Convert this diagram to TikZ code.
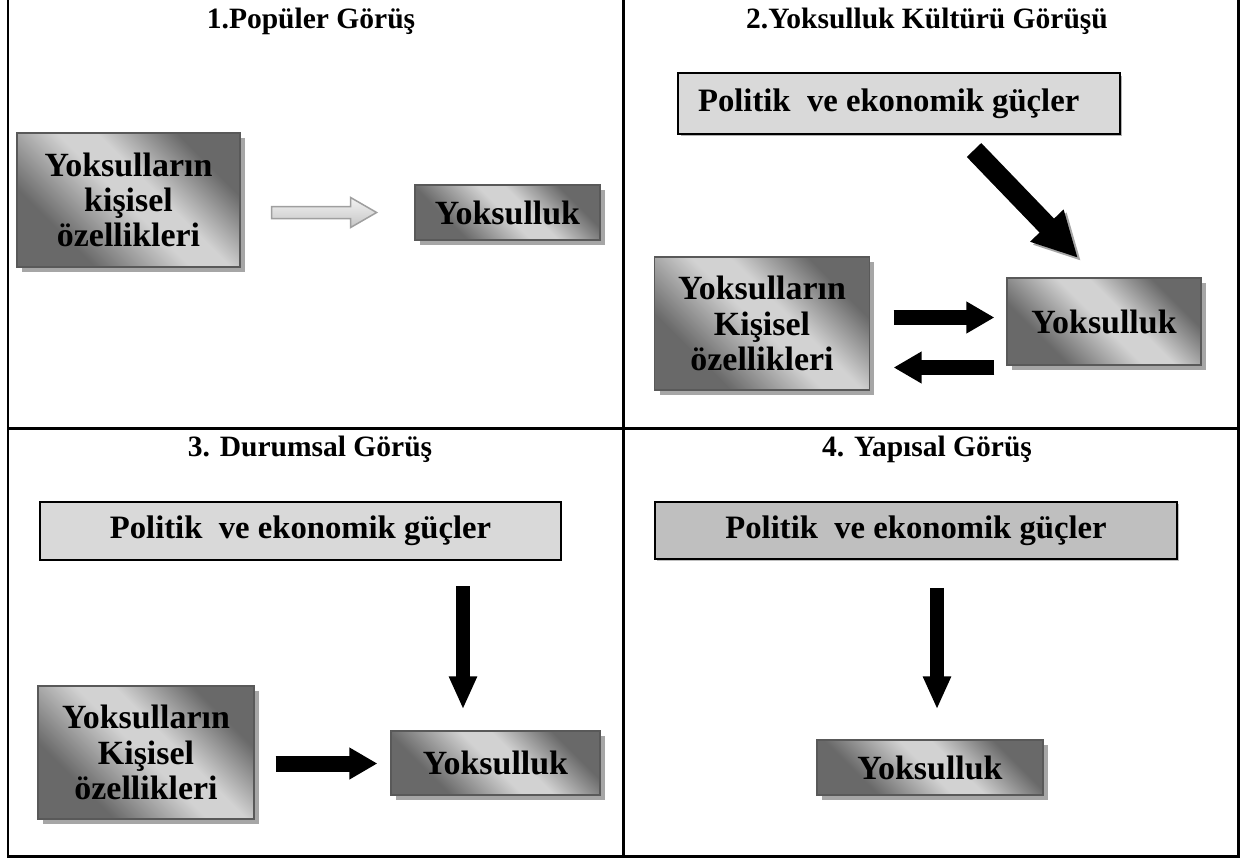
\documentclass[tikz,border=0pt]{standalone}
\usepackage{fontspec}
\setmainfont{Liberation Serif}
\usetikzlibrary{arrows.meta,shadows,calc}

\definecolor{gdark}{HTML}{696969}
\definecolor{glight}{HTML}{D2D2D2}
\definecolor{polfill}{HTML}{D9D9D9}
\definecolor{polfilldark}{HTML}{BFBFBF}
\pgfdeclarehorizontalshading{boxshade}{100bp}{color(0bp)=(gdark); color(30bp)=(gdark);
    color(49bp)=(glight); color(57bp)=(glight); color(73bp)=(gdark); color(100bp)=(gdark)}

\begin{document}
\begin{tikzpicture}[x=0.02cm, y=-0.02cm,
    gridline/.style={line width=0.06cm},
    paneltitle/.style={font=\bfseries\fontsize{16.8}{18}\selectfont, anchor=base},
    shadedbox/.style={draw=black!65, line width=0.025cm,
        shading=boxshade, shading angle=45,
        align=center, font=\bfseries\fontsize{19.3}{20}\selectfont,
        drop shadow={shadow xshift=0.1cm, shadow yshift=-0.1cm, fill=black!35, opacity=1}},
    polbox/.style={draw=black, line width=0.04cm, fill=polfill,
        font=\bfseries\fontsize{18.6}{20}\selectfont},
    blockarrow/.style={line width=0.3cm, -{Triangle[length=0.56cm, width=0.6cm]}},
    blockdown/.style={line width=0.27cm, -{Triangle[length=0.66cm, width=0.52cm]}},
    diagarrow/.style={line width=0.4cm, -{Triangle[length=0.9cm, width=0.86cm]}},
    hollowarrow/.style={draw=gray!75, line width=0.03cm, top color=gray!10, bottom color=gray!45}
]
    \useasboundingbox (0,0) rectangle (1243,859);

    % -----------------------------------------------------
    % 0) Tablo cizgileri ve basliklar
    % -----------------------------------------------------
    \draw[gridline] (8,0) -- (8,856) -- (1238,856) -- (1238,0);
    \draw[gridline] (623,0) -- (623,856);
    \draw[gridline] (8,428) -- (1238,428);

    \node[paneltitle] (t1) at (311,28) {1.Popüler Görüş};
    \node[paneltitle] (t2) at (927,28) {2.Yoksulluk Kültürü Görüşü};
    \node[paneltitle] (t3) at (310,456) {3. Durumsal Görüş};
    \node[paneltitle] (t4) at (927,456) {4. Yapısal Görüş};

    % -----------------------------------------------------
    % 1) Popüler görüş
    % -----------------------------------------------------
    \node[shadedbox, shade, minimum width=4.46cm, minimum height=2.68cm] (kis1) at (128.5,200) {Yoksulların\\kişisel\\özellikleri};
    \node[shadedbox, shade, minimum width=3.7cm, minimum height=1.1cm] (yok1) at (507.5,212.5) {Yoksulluk};
    \draw[hollowarrow] ($(kis1.east |- yok1)+(31,-6)$) -- ++(79,0) -- ++(0,-9) -- ++(26,15)
        -- ++(-26,15) -- ++(0,-9) -- ++(-79,0) -- cycle;

    % -----------------------------------------------------
    % 2) Yoksulluk kültürü görüşü
    % -----------------------------------------------------
    \node[polbox, minimum width=8.84cm, minimum height=1.22cm, text width=8.04cm, align=flush left,
        drop shadow={shadow xshift=0.05cm, shadow yshift=-0.05cm, fill=black!30, opacity=1}]
        (pol2) at (899,103.5) {Politik~ ve ekonomik güçler};
    \node[shadedbox, shade, minimum width=4.3cm, minimum height=2.66cm] (kis2) at (762,323.5) {Yoksulların\\Kişisel\\özellikleri};
    \node[shadedbox, shade, minimum width=3.88cm, minimum height=1.74cm] (yok2) at (1104,321.5) {Yoksulluk};

    \coordinate (d2s) at (974,150);
    \coordinate (d2e) at (1078,258);
    \draw[diagarrow, gray!70] ([shift={(3,3)}]d2s) -- ([shift={(3,3)}]d2e);
    \draw[diagarrow] (d2s) -- (d2e);

    \coordinate (r2) at (0,317.5);
    \coordinate (l2) at (0,367.5);
    \draw[blockarrow, shorten <=0.47cm, shorten >=0.24cm] (kis2.east |- r2) -- (yok2.west |- r2);
    \draw[blockarrow, shorten <=0.24cm, shorten >=0.47cm] (yok2.west |- l2) -- (kis2.east |- l2);

    % -----------------------------------------------------
    % 3) Durumsal görüş
    % -----------------------------------------------------
    \node[polbox, minimum width=10.42cm, minimum height=1.16cm] (pol3) at (300.5,531) {Politik~ ve ekonomik güçler};
    \node[shadedbox, shade, minimum width=4.32cm, minimum height=2.66cm] (kis3) at (146,752.5) {Yoksulların\\Kişisel\\özellikleri};
    \node[shadedbox, shade, minimum width=4.18cm, minimum height=1.28cm] (yok3) at (495.5,763) {Yoksulluk};

    \coordinate (v3) at (463,0);
    \coordinate (r3) at (0,763.5);
    \draw[blockdown, shorten <=0.5cm, shorten >=0.42cm] (pol3.south -| v3) -- (yok3.north -| v3);
    \draw[blockarrow, line width=0.32cm, shorten <=0.42cm, shorten >=0.26cm] (kis3.east |- r3) -- (yok3.west |- r3);

    % -----------------------------------------------------
    % 4) Yapısal görüş
    % -----------------------------------------------------
    \node[polbox, fill=polfilldark, minimum width=10.44cm, minimum height=1.14cm,
        drop shadow={shadow xshift=0.04cm, shadow yshift=-0.04cm, fill=black!25, opacity=1}]
        (pol4) at (916,530.5) {Politik~ ve ekonomik güçler};
    \node[shadedbox, shade, minimum width=4.52cm, minimum height=1.1cm] (yok4) at (930,767.5) {Yoksulluk};

    \coordinate (v4) at (937,0);
    \draw[blockdown, shorten <=0.56cm, shorten >=0.6cm] (pol4.south -| v4) -- (yok4.north -| v4);

\end{tikzpicture}
\end{document}
